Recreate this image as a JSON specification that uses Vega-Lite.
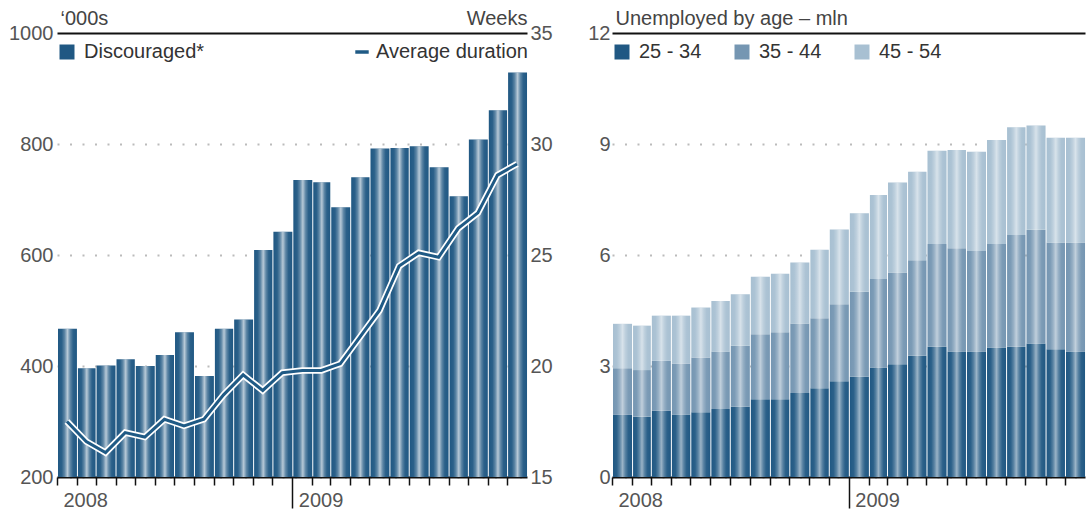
{
  "$schema": "https://vega.github.io/schema/vega-lite/v6.json",
  "padding": {"left": 8, "top": 8, "right": 0, "bottom": 0},
  "background": "white",
  "spacing": 85,
  "bounds": "flush",
  "config": {
    "font": "Liberation Sans",
    "view": {"stroke": null},
    "axis": {"labelFont": "Liberation Sans", "labelFontSize": 20, "labelColor": "#555", "titleFont": "Liberation Sans", "titleFontSize": 20, "titleColor": "#444", "titleFontWeight": "normal"},
    "legend": {"labelFont": "Liberation Sans", "labelFontSize": 20, "labelColor": "#333"}
  },
  "resolve": {"scale": {"color": "independent"}, "legend": {"color": "independent"}},
  "hconcat": [
    {
      "width": 470,
      "height": 444,
      "data": {"values": [
        {"date": "2008-01-01", "discouraged": 467, "duration": 17.5},
        {"date": "2008-02-01", "discouraged": 396, "duration": 16.6},
        {"date": "2008-03-01", "discouraged": 401, "duration": 16.1},
        {"date": "2008-04-01", "discouraged": 412, "duration": 17.0},
        {"date": "2008-05-01", "discouraged": 400, "duration": 16.8},
        {"date": "2008-06-01", "discouraged": 420, "duration": 17.6},
        {"date": "2008-07-01", "discouraged": 461, "duration": 17.3},
        {"date": "2008-08-01", "discouraged": 382, "duration": 17.6},
        {"date": "2008-09-01", "discouraged": 467, "duration": 18.7},
        {"date": "2008-10-01", "discouraged": 484, "duration": 19.6},
        {"date": "2008-11-01", "discouraged": 609, "duration": 18.9},
        {"date": "2008-12-01", "discouraged": 642, "duration": 19.7},
        {"date": "2009-01-01", "discouraged": 735, "duration": 19.8},
        {"date": "2009-02-01", "discouraged": 731, "duration": 19.8},
        {"date": "2009-03-01", "discouraged": 686, "duration": 20.1},
        {"date": "2009-04-01", "discouraged": 740, "duration": 21.3},
        {"date": "2009-05-01", "discouraged": 792, "duration": 22.5},
        {"date": "2009-06-01", "discouraged": 793, "duration": 24.5},
        {"date": "2009-07-01", "discouraged": 796, "duration": 25.1},
        {"date": "2009-08-01", "discouraged": 758, "duration": 24.9},
        {"date": "2009-09-01", "discouraged": 706, "duration": 26.2},
        {"date": "2009-10-01", "discouraged": 808, "duration": 26.9},
        {"date": "2009-11-01", "discouraged": 861, "duration": 28.6},
        {"date": "2009-12-01", "discouraged": 929, "duration": 29.1}
      ]},
      "layer": [
        {
          "layer": [
            {
              "mark": {"type": "bar", "timeUnitBandSize": 0.87, "timeUnitBandPosition": 0},
              "encoding": {
                "x": {
                  "field": "date", "timeUnit": "utcyearmonth", "type": "temporal",
                  "scale": {"domain": [{"year": 2008, "month": 1, "date": 1, "utc": true}, {"year": 2009, "month": 12, "date": 31, "hours": 23, "utc": true}]},
                  "axis": {
                    "orient": "bottom", "title": null, "grid": false,
                    "tickCount": {"interval": "month", "step": 1},
                    "labelExpr": "utcmonth(datum.value) == 0 ? '' + utcyear(datum.value) : ''",
                    "labelAlign": "left", "labelOffset": 6, "labelBaseline": "top",
                    "labelPadding": {"condition": {"test": "utcmonth(datum.value) == 0 && utcyear(datum.value) == 2009", "value": -18}, "value": 5},
                    "labelOverlap": false, "labelFlush": false, "labelBound": false,
                    "tickColor": "#111", "tickWidth": 1.5,
                    "tickSize": {"condition": {"test": "utcmonth(datum.value) == 0 && utcyear(datum.value) == 2009", "value": 31}, "value": 8},
                    "domainColor": "#111", "domainWidth": 2
                  }
                },
                "y": {
                  "field": "discouraged", "type": "quantitative",
                  "scale": {"domain": [200, 1000], "nice": false, "zero": false},
                  "axis": {
                    "orient": "left", "values": [200, 400, 600, 800, 1000], "format": "d",
                    "title": "‘000s", "titleAngle": 0, "titleAlign": "left", "titleBaseline": "bottom", "titleX": 3, "titleY": -5,
                    "ticks": false, "domain": false, "labelPadding": 4,
                    "grid": true,
                    "gridColor": {"condition": {"test": "datum.value == 1000", "value": "#111"}, "value": "#bbb"},
                    "gridDash": {"condition": {"test": "datum.value == 1000", "value": []}, "value": [2, 10.5]},
                    "gridWidth": 2
                  }
                },
                "y2": {"datum": 200},
                "color": {
                  "datum": "Discouraged*", "type": "nominal",
                  "scale": {"range": ["#205883"]},
                  "legend": {"orient": "none", "legendX": 0, "legendY": 9, "title": null, "symbolType": "square", "symbolSize": 225, "symbolStrokeWidth": 0, "symbolOpacity": 1, "labelOffset": 7}
                }
              }
            },
            {
              "mark": {"type": "bar", "timeUnitBandSize": 0.87, "timeUnitBandPosition": 0,
                "fill": {"gradient": "linear", "x1": 0, "y1": 0, "x2": 1, "y2": 0, "stops": [
                  {"offset": 0, "color": "rgba(255,255,255,0)"}, {"offset": 0.2, "color": "rgba(255,255,255,0.05)"},
                  {"offset": 0.35, "color": "rgba(255,255,255,0.28)"}, {"offset": 0.5, "color": "rgba(255,255,255,0.68)"},
                  {"offset": 0.65, "color": "rgba(255,255,255,0.28)"}, {"offset": 0.8, "color": "rgba(255,255,255,0.05)"},
                  {"offset": 1, "color": "rgba(255,255,255,0)"}]}},
              "encoding": {
                "x": {"field": "date", "timeUnit": "utcyearmonth", "type": "temporal"},
                "y": {"field": "discouraged", "type": "quantitative"},
                "y2": {"datum": 200}
              }
            }
          ]
        },
        {
          "layer": [
            {
              "mark": {"type": "line", "color": "white", "strokeWidth": 6.5},
              "encoding": {
                "x": {"field": "date", "timeUnit": "utcyearmonth", "type": "temporal", "bandPosition": 0.5},
                "y": {
                  "field": "duration", "type": "quantitative",
                  "scale": {"domain": [15, 35], "nice": false, "zero": false},
                  "axis": {
                    "orient": "right", "values": [15, 20, 25, 30, 35],
                    "title": "Weeks", "titleAngle": 0, "titleAlign": "right", "titleBaseline": "bottom", "titleX": 0, "titleY": -5,
                    "ticks": false, "domain": false, "grid": false, "labelPadding": 3
                  }
                }
              }
            },
            {
              "mark": {"type": "line", "strokeWidth": 3},
              "encoding": {
                "x": {"field": "date", "timeUnit": "utcyearmonth", "type": "temporal", "bandPosition": 0.5},
                "y": {"field": "duration", "type": "quantitative"},
                "stroke": {
                  "datum": "Average duration", "type": "nominal",
                  "scale": {"range": ["#1f5a85"]},
                  "legend": {"orient": "none", "legendX": 295, "legendY": 9, "title": null, "symbolType": "stroke", "symbolSize": 180, "symbolStrokeWidth": 3.5, "labelOffset": 4}
                }
              }
            }
          ]
        }
      ],
      "resolve": {"scale": {"y": "independent"}}
    },
    {
      "width": 473,
      "height": 444,
      "data": {"values": [
        {"date": "2008-01-01", "age": "25 - 34", "value": 1.68}, {"date": "2008-01-01", "age": "35 - 44", "value": 1.26}, {"date": "2008-01-01", "age": "45 - 54", "value": 1.20},
        {"date": "2008-02-01", "age": "25 - 34", "value": 1.63}, {"date": "2008-02-01", "age": "35 - 44", "value": 1.26}, {"date": "2008-02-01", "age": "45 - 54", "value": 1.20},
        {"date": "2008-03-01", "age": "25 - 34", "value": 1.79}, {"date": "2008-03-01", "age": "35 - 44", "value": 1.35}, {"date": "2008-03-01", "age": "45 - 54", "value": 1.22},
        {"date": "2008-04-01", "age": "25 - 34", "value": 1.69}, {"date": "2008-04-01", "age": "35 - 44", "value": 1.38}, {"date": "2008-04-01", "age": "45 - 54", "value": 1.29},
        {"date": "2008-05-01", "age": "25 - 34", "value": 1.75}, {"date": "2008-05-01", "age": "35 - 44", "value": 1.48}, {"date": "2008-05-01", "age": "45 - 54", "value": 1.35},
        {"date": "2008-06-01", "age": "25 - 34", "value": 1.84}, {"date": "2008-06-01", "age": "35 - 44", "value": 1.55}, {"date": "2008-06-01", "age": "45 - 54", "value": 1.37},
        {"date": "2008-07-01", "age": "25 - 34", "value": 1.90}, {"date": "2008-07-01", "age": "35 - 44", "value": 1.65}, {"date": "2008-07-01", "age": "45 - 54", "value": 1.39},
        {"date": "2008-08-01", "age": "25 - 34", "value": 2.10}, {"date": "2008-08-01", "age": "35 - 44", "value": 1.76}, {"date": "2008-08-01", "age": "45 - 54", "value": 1.55},
        {"date": "2008-09-01", "age": "25 - 34", "value": 2.10}, {"date": "2008-09-01", "age": "35 - 44", "value": 1.81}, {"date": "2008-09-01", "age": "45 - 54", "value": 1.58},
        {"date": "2008-10-01", "age": "25 - 34", "value": 2.27}, {"date": "2008-10-01", "age": "35 - 44", "value": 1.88}, {"date": "2008-10-01", "age": "45 - 54", "value": 1.65},
        {"date": "2008-11-01", "age": "25 - 34", "value": 2.40}, {"date": "2008-11-01", "age": "35 - 44", "value": 1.89}, {"date": "2008-11-01", "age": "45 - 54", "value": 1.85},
        {"date": "2008-12-01", "age": "25 - 34", "value": 2.59}, {"date": "2008-12-01", "age": "35 - 44", "value": 2.08}, {"date": "2008-12-01", "age": "45 - 54", "value": 2.02},
        {"date": "2009-01-01", "age": "25 - 34", "value": 2.71}, {"date": "2009-01-01", "age": "35 - 44", "value": 2.30}, {"date": "2009-01-01", "age": "45 - 54", "value": 2.12},
        {"date": "2009-02-01", "age": "25 - 34", "value": 2.96}, {"date": "2009-02-01", "age": "35 - 44", "value": 2.39}, {"date": "2009-02-01", "age": "45 - 54", "value": 2.27},
        {"date": "2009-03-01", "age": "25 - 34", "value": 3.05}, {"date": "2009-03-01", "age": "35 - 44", "value": 2.48}, {"date": "2009-03-01", "age": "45 - 54", "value": 2.43},
        {"date": "2009-04-01", "age": "25 - 34", "value": 3.28}, {"date": "2009-04-01", "age": "35 - 44", "value": 2.58}, {"date": "2009-04-01", "age": "45 - 54", "value": 2.39},
        {"date": "2009-05-01", "age": "25 - 34", "value": 3.52}, {"date": "2009-05-01", "age": "35 - 44", "value": 2.78}, {"date": "2009-05-01", "age": "45 - 54", "value": 2.52},
        {"date": "2009-06-01", "age": "25 - 34", "value": 3.39}, {"date": "2009-06-01", "age": "35 - 44", "value": 2.79}, {"date": "2009-06-01", "age": "45 - 54", "value": 2.66},
        {"date": "2009-07-01", "age": "25 - 34", "value": 3.39}, {"date": "2009-07-01", "age": "35 - 44", "value": 2.72}, {"date": "2009-07-01", "age": "45 - 54", "value": 2.68},
        {"date": "2009-08-01", "age": "25 - 34", "value": 3.50}, {"date": "2009-08-01", "age": "35 - 44", "value": 2.80}, {"date": "2009-08-01", "age": "45 - 54", "value": 2.81},
        {"date": "2009-09-01", "age": "25 - 34", "value": 3.52}, {"date": "2009-09-01", "age": "35 - 44", "value": 3.02}, {"date": "2009-09-01", "age": "45 - 54", "value": 2.91},
        {"date": "2009-10-01", "age": "25 - 34", "value": 3.61}, {"date": "2009-10-01", "age": "35 - 44", "value": 3.07}, {"date": "2009-10-01", "age": "45 - 54", "value": 2.82},
        {"date": "2009-11-01", "age": "25 - 34", "value": 3.45}, {"date": "2009-11-01", "age": "35 - 44", "value": 2.89}, {"date": "2009-11-01", "age": "45 - 54", "value": 2.83},
        {"date": "2009-12-01", "age": "25 - 34", "value": 3.39}, {"date": "2009-12-01", "age": "35 - 44", "value": 2.95}, {"date": "2009-12-01", "age": "45 - 54", "value": 2.83}
      ]},
      "layer": [
        {
          "mark": {"type": "bar", "timeUnitBandSize": 0.8, "timeUnitBandPosition": 0},
          "encoding": {
            "x": {
              "field": "date", "timeUnit": "utcyearmonth", "type": "temporal",
              "scale": {"domain": [{"year": 2008, "month": 1, "date": 1, "utc": true}, {"year": 2009, "month": 12, "date": 31, "hours": 23, "utc": true}]},
              "axis": {
                "orient": "bottom", "title": null, "grid": false,
                "tickCount": {"interval": "month", "step": 1},
                "labelExpr": "utcmonth(datum.value) == 0 ? '' + utcyear(datum.value) : ''",
                "labelAlign": "left", "labelOffset": 6, "labelBaseline": "top",
                "labelPadding": {"condition": {"test": "utcmonth(datum.value) == 0 && utcyear(datum.value) == 2009", "value": -18}, "value": 5},
                "labelOverlap": false, "labelFlush": false, "labelBound": false,
                "tickColor": "#111", "tickWidth": 1.5,
                "tickSize": {"condition": {"test": "utcmonth(datum.value) == 0 && utcyear(datum.value) == 2009", "value": 31}, "value": 8},
                "domainColor": "#111", "domainWidth": 2
              }
            },
            "y": {
              "field": "value", "type": "quantitative", "stack": "zero",
              "scale": {"domain": [0, 12], "nice": false},
              "axis": {
                "orient": "left", "values": [0, 3, 6, 9, 12],
                "title": "Unemployed by age – mln", "titleAngle": 0, "titleAlign": "left", "titleBaseline": "bottom", "titleX": 3, "titleY": -5,
                "ticks": false, "domain": false, "labelPadding": 2,
                "grid": true,
                "gridColor": {"condition": {"test": "datum.value == 12", "value": "#111"}, "value": "#bbb"},
                "gridDash": {"condition": {"test": "datum.value == 12", "value": []}, "value": [2, 10.5]},
                "gridWidth": 2
              }
            },
            "order": {"field": "age", "sort": "ascending"},
            "color": {
              "field": "age", "type": "nominal",
              "scale": {"domain": ["25 - 34", "35 - 44", "45 - 54"], "range": ["#205883", "#7596b2", "#a8c0d2"]},
              "legend": {"orient": "none", "legendX": 0, "legendY": 9, "direction": "horizontal", "title": null, "symbolType": "square", "symbolSize": 225, "symbolStrokeWidth": 0, "symbolOpacity": 1, "labelOffset": 7, "columnPadding": 30}
            }
          }
        },
        {
          "mark": {"type": "bar", "timeUnitBandSize": 0.8, "timeUnitBandPosition": 0,
            "fill": {"gradient": "linear", "x1": 0, "y1": 0, "x2": 1, "y2": 0, "stops": [
              {"offset": 0, "color": "rgba(255,255,255,0)"}, {"offset": 0.2, "color": "rgba(255,255,255,0.05)"},
              {"offset": 0.35, "color": "rgba(255,255,255,0.25)"}, {"offset": 0.5, "color": "rgba(255,255,255,0.55)"},
              {"offset": 0.65, "color": "rgba(255,255,255,0.25)"}, {"offset": 0.8, "color": "rgba(255,255,255,0.05)"},
              {"offset": 1, "color": "rgba(255,255,255,0)"}]}},
          "encoding": {
            "x": {"field": "date", "timeUnit": "utcyearmonth", "type": "temporal"},
            "y": {"field": "value", "type": "quantitative", "aggregate": "sum", "stack": null},
            "y2": {"datum": 0}
          }
        }
      ]
    }
  ]
}
